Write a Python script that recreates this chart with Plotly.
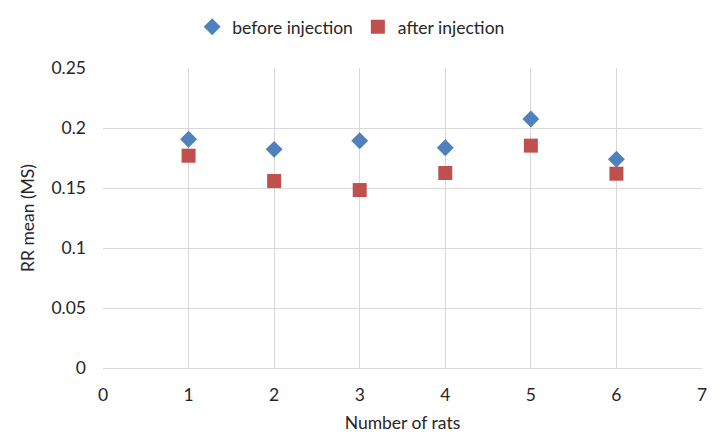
import plotly.graph_objects as go

rats = [1, 2, 3, 4, 5, 6]
before_injection = [0.1906, 0.1822, 0.1894, 0.1836, 0.2075, 0.1739]
after_injection = [0.1769, 0.1558, 0.1483, 0.1625, 0.1853, 0.1619]

FONT = "Lato, Open Sans, sans-serif"
GRID = "#D9D9D9"

fig = go.Figure()
fig.add_trace(go.Scatter(x=rats, y=before_injection, mode="markers", name="before injection",
                         marker=dict(symbol="diamond", size=13, color="#4F81BD")))
fig.add_trace(go.Scatter(x=rats, y=after_injection, mode="markers", name="after injection",
                         marker=dict(symbol="square", size=14, color="#C0504D")))

# page body adds an 8px offset; margins compensate so plot area sits at x 103-702, y 68-368
fig.update_layout(
    width=724, height=438,
    margin=dict(l=95, r=30, t=60, b=78),
    paper_bgcolor="white", plot_bgcolor="white",
    font=dict(family=FONT, size=17.5, color="#262626"),
    legend=dict(orientation="h", x=0.474, y=0.957, xref="container", yref="container",
                xanchor="center", yanchor="middle", font=dict(size=17.5),
                itemwidth=30, bgcolor="rgba(0,0,0,0)"),
    xaxis=dict(range=[0, 7], dtick=1, tick0=0, showgrid=True, gridcolor=GRID,
               zeroline=False, showline=True, linecolor=GRID, ticks="", mirror=False,
               ticklabelstandoff=11,
               title=dict(text="Number of rats", font=dict(size=17.5), standoff=12),
               tickfont=dict(size=17.5, color="#262626")),
    yaxis=dict(range=[0, 0.25], dtick=0.05, tick0=0, showgrid=True, gridcolor=GRID,
               zeroline=False, showline=False, ticks="",
               tickformat="~g", ticklabelstandoff=16,
               title=dict(text="RR mean (MS)", font=dict(size=17.5), standoff=12),
               tickfont=dict(size=17.5, color="#262626")),
)

fig.write_html("out.html")
